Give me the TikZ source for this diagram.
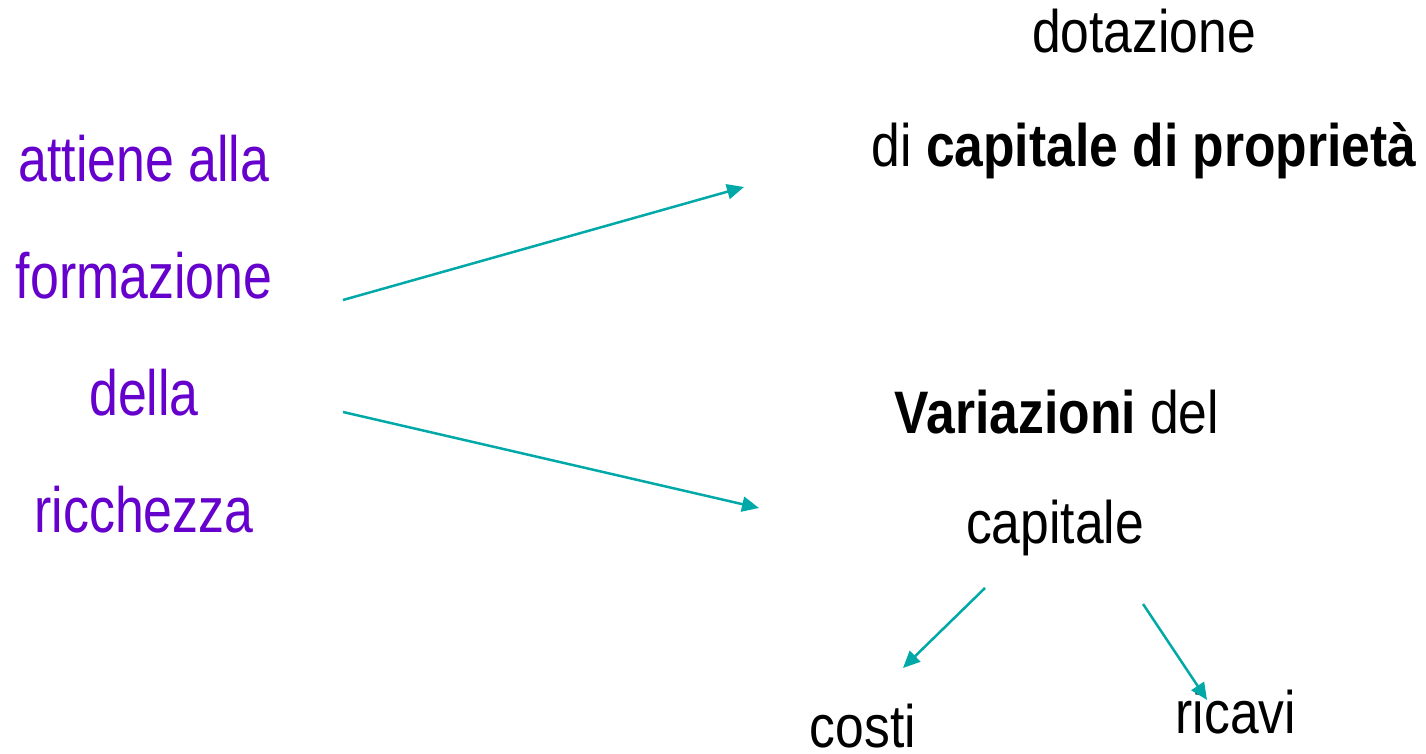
\documentclass[tikz,border=0pt]{standalone}
\usepackage{fontspec}
\setmainfont{Liberation Sans}[FakeStretch=0.86]
\newfontfamily\leftfont{Liberation Sans}[FakeStretch=0.81]
\usetikzlibrary{arrows.meta}
\definecolor{violetto}{HTML}{6600CC}
\definecolor{teal}{HTML}{00A8A8}
\tikzset{
  rtxt/.style={anchor=base, inner sep=0pt, font=\fontsize{60}{60}\selectfont},
  ltxt/.style={anchor=base, inner sep=0pt, text=violetto, font=\leftfont\fontsize{64}{64}\selectfont},
  freccia/.style={draw=teal, line width=2.5pt, -{Triangle[length=17pt,width=15pt]}}
}
\begin{document}
\begin{tikzpicture}[x=1pt,y=-1pt]
\useasboundingbox (0,0) rectangle (1426,754);
% left text
\node[ltxt] (l1) at (144,182) {attiene alla};
\node[ltxt] (l2) at (144,298) {formazione};
\node[ltxt] (l3) at (144,415) {della};
\node[ltxt] (l4) at (144,532) {ricchezza};
% right text
\node[rtxt] (dot) at (1144,53) {dotazione};
\node[rtxt] (cap) at (1144,167) {di \textbf{capitale di propriet\`a}};
\node[rtxt] (var) at (1057,433) {\textbf{Variazioni} del};
\node[rtxt] (capv) at (1055,543) {capitale};
\node[rtxt] (costi) at (863,747) {costi};
\node[rtxt] (ricavi) at (1236,733) {ricavi};
% arrow ends
\coordinate (a1s) at (343,300);
\coordinate (a1e) at (744,187);
\coordinate (a2s) at (343,412);
\coordinate (a2e) at (759,508);
\coordinate (a3s) at (985,588);
\coordinate (a3e) at (903,668);
\coordinate (a4s) at (1143,604);
\coordinate (a4e) at (1207,700);
\draw[freccia] (a1s) -- (a1e);
\draw[freccia] (a2s) -- (a2e);
\draw[freccia] (a3s) -- (a3e);
\draw[freccia] (a4s) -- (a4e);
\end{tikzpicture}
\end{document}
